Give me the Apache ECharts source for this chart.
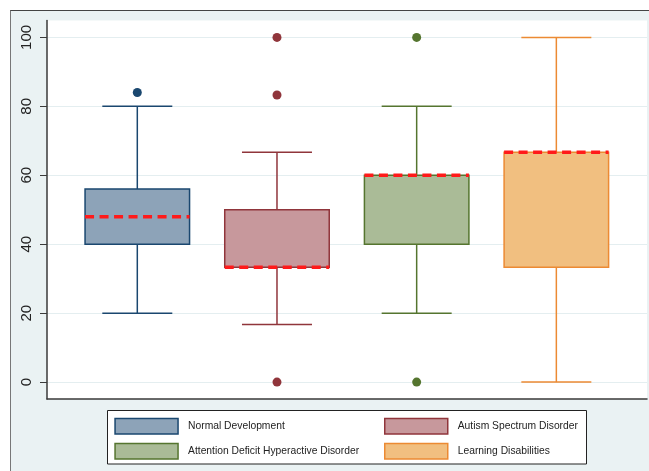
<!DOCTYPE html>
<html>
<head>
<meta charset="utf-8">
<title>Box plot</title>
<script src="https://cdn.jsdelivr.net/npm/echarts@6/dist/echarts.min.js"></script>
<style>
  html, body { margin: 0; padding: 0; background: #fff; }
  .chartsBox { position: relative; width: 649px; height: 471px; overflow: hidden; }
  .frame { position: absolute; left: 10px; top: 10px; right: -2px; bottom: -2px; background: #eaf2f3; border-left: 1px solid #777; border-top: 1px solid #444; }
  #boxChart { position: absolute; left: 0; top: 0; width: 649px; height: 471px; }
</style>
</head>
<body>
<div class="chartsBox">
  <div class="frame"></div>
  <div id="boxChart"></div>
</div>
<script>
const categories = ['Normal Development', 'Autism Spectrum Disorder', 'Attention Deficit Hyperactive Disorder', 'Learning Disabilities']
const whiskerLow = [20, 16.7, 20, 0]
const q1 = [40, 33.3, 40, 33.3]
const medians = [48, 33.3, 60, 66.7]
const q3 = [56, 50, 60, 66.7]
const whiskerHigh = [80, 66.7, 80, 100]
const outliers = [[84], [100, 83.3, 0], [100, 0], []]
const yTicks = [0, 20, 40, 60, 80, 100]

const lineColors = ['#1a476f', '#90353b', '#55752f', '#ec8a33']
const fillColors = ['#8da3b8', '#c7989c', '#aabb97', '#f1bf80']
const BOX_W = 104.5
const CAP_W = 70
const FONT = '"Liberation Sans", Arial, sans-serif'

// draws one box: whiskers, caps, box and red dashed median
function makeRenderer(fill, stroke) {
  return function(params, api) {
    const x = api.value(0)
    const low = api.coord([x, api.value(1)])
    const lo = api.coord([x, api.value(2)])
    const med = api.coord([x, api.value(3)])
    const hi = api.coord([x, api.value(4)])
    const high = api.coord([x, api.value(5)])
    const cx = low[0]
    const ln = () => ({ stroke: stroke, lineWidth: 1.5 })
    const children = [
      { type: 'line', shape: { x1: cx, y1: low[1], x2: cx, y2: lo[1] }, style: ln() },
      { type: 'line', shape: { x1: cx, y1: hi[1], x2: cx, y2: high[1] }, style: ln() },
      { type: 'line', shape: { x1: cx - CAP_W / 2, y1: low[1], x2: cx + CAP_W / 2, y2: low[1] }, style: ln() },
      { type: 'line', shape: { x1: cx - CAP_W / 2, y1: high[1], x2: cx + CAP_W / 2, y2: high[1] }, style: ln() },
      {
        type: 'rect',
        shape: { x: cx - BOX_W / 2, y: hi[1], width: BOX_W, height: lo[1] - hi[1] },
        style: { fill: fill, stroke: stroke, lineWidth: 1.5 }
      }
    ]
    if (api.value(3) > api.value(2) && api.value(3) < api.value(4)) {
      children.push({
        type: 'line',
        shape: { x1: cx - BOX_W / 2 + 1, y1: med[1], x2: cx + BOX_W / 2 - 1, y2: med[1] },
        style: { stroke: fill, lineWidth: 3.5 }
      })
    }
    children.push({
      type: 'line',
      shape: { x1: cx - BOX_W / 2, y1: med[1], x2: cx + BOX_W / 2, y2: med[1] },
      style: { stroke: '#ff1a1a', lineWidth: 3.5, lineDash: [9, 5.5] }
    })
    return { type: 'group', children: children }
  }
}

const series = []
categories.forEach((name, i) => {
  series.push({
    name: name,
    type: 'custom',
    renderItem: makeRenderer(fillColors[i], lineColors[i]),
    encode: { x: 0, y: [1, 2, 3, 4, 5] },
    itemStyle: { color: fillColors[i], borderColor: lineColors[i] },
    data: [[i + 1, whiskerLow[i], q1[i], medians[i], q3[i], whiskerHigh[i]]],
    z: 2
  })
  series.push({
    name: name,
    type: 'scatter',
    symbolSize: 9,
    itemStyle: { color: lineColors[i], opacity: 1 },
    data: outliers[i].map(v => [i + 1, v]),
    z: 3
  })
})

function legendItems(idx) {
  return idx.map(i => ({
    name: categories[i],
    icon: 'rect',
    itemStyle: { color: fillColors[i], borderColor: lineColors[i], borderWidth: 1.5 }
  }))
}

const legendBase = {
  orient: 'vertical',
  top: 417.7,
  padding: 0,
  itemWidth: 63,
  itemHeight: 15.5,
  itemGap: 8,
  selectedMode: false,
  textStyle: { fontSize: 10.3, color: '#222', fontFamily: FONT, padding: [0, 0, 0, 5] }
}

const chart = echarts.init(document.getElementById('boxChart'), null, { renderer: 'canvas' })
chart.setOption({
  animation: false,
  grid: {
    left: 47,
    right: 2,
    top: 20.5,
    bottom: 72,
    show: true,
    backgroundColor: '#fff',
    borderWidth: 0
  },
  xAxis: {
    type: 'value',
    min: 0.3535,
    max: 4.649,
    axisLine: { show: true, onZero: false, lineStyle: { color: '#3a3a3a', width: 1.5 } },
    axisTick: { show: false },
    axisLabel: { show: false },
    splitLine: { show: false }
  },
  yAxis: {
    type: 'value',
    min: -4.9,
    max: 104.9,
    axisLine: { show: true, onZero: false, lineStyle: { color: '#3a3a3a', width: 1.5 } },
    axisTick: { show: true, length: 7, customValues: yTicks, lineStyle: { color: '#3a3a3a', width: 1 } },
    axisLabel: { customValues: yTicks, rotate: 90, margin: 13, fontSize: 15, color: '#222', fontFamily: FONT },
    splitLine: { show: true, lineStyle: { color: '#e4eef0', width: 1 } }
  },
  legend: [
    Object.assign({}, legendBase, { left: 114.3, data: legendItems([0, 2]) }),
    Object.assign({}, legendBase, { left: 384, data: legendItems([1, 3]) })
  ],
  graphic: [{
    type: 'rect',
    z: 0,
    shape: { x: 107.5, y: 410.5, width: 479, height: 53.5 },
    style: { fill: '#fff', stroke: '#222', lineWidth: 1 }
  }],
  series: series
})
</script>
</body>
</html>
